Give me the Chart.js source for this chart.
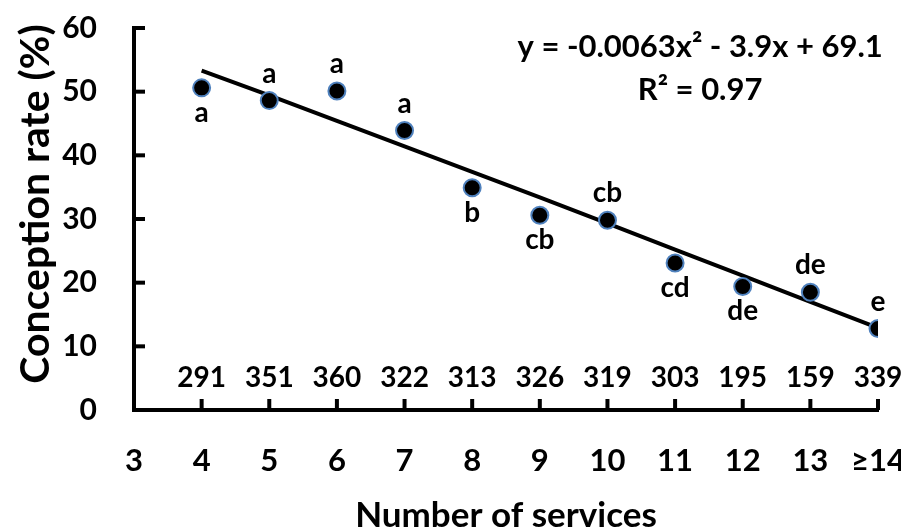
<!DOCTYPE html>
<html>
<head>
<meta charset="utf-8">
<script src="https://cdn.jsdelivr.net/npm/chart.js@4.4.1/dist/chart.umd.min.js"></script>
<style>
  html, body { margin: 0; padding: 0; background: #fff; }
  #wrap { width: 901px; height: 527px; position: relative; }
</style>
</head>
<body>
<div id="wrap"><canvas id="rateChart"></canvas></div>
<script>
const services = [4, 5, 6, 7, 8, 9, 10, 11, 12, 13, 14];
const conceptionRate = [50.6, 48.6, 50.1, 43.9, 34.9, 30.6, 29.8, 23.1, 19.4, 18.5, 12.8];
const trendRate = [53.3, 49.4, 45.4, 41.4, 37.4, 33.4, 29.3, 25.2, 21.1, 17.0, 12.9];
const groupLetters = ['a', 'a', 'a', 'a', 'b', 'cb', 'cb', 'cd', 'de', 'de', 'e'];
const letterAbove = [false, true, true, true, false, false, true, false, false, true, true];
const cowCounts = [291, 351, 360, 322, 313, 326, 319, 303, 195, 159, 339];
const xTicks = [3, 4, 5, 6, 7, 8, 9, 10, 11, 12, 13, 14];
const yTicks = [0, 10, 20, 30, 40, 50, 60];
const equationText = ['y = -0.0063x\u00b2 - 3.9x + 69.1', 'R\u00b2 = 0.97'];

const FONT = 'Lato';

// tick marks pointing into the plot, like the original
const innerTicks = {
  id: 'innerTicks',
  afterDraw(chart) {
    const { ctx, scales: { x, y } } = chart;
    ctx.save();
    ctx.strokeStyle = '#000';
    ctx.lineWidth = 4;
    yTicks.forEach(v => {
      const py = y.getPixelForValue(v);
      ctx.beginPath();
      ctx.moveTo(x.left, py);
      ctx.lineTo(x.left + 11, py);
      ctx.stroke();
    });
    services.forEach(v => {
      const px = x.getPixelForValue(v);
      ctx.beginPath();
      ctx.moveTo(px, y.bottom);
      ctx.lineTo(px, y.bottom - 11);
      ctx.stroke();
    });
    ctx.restore();
  }
};

const textLabels = {
  id: 'textLabels',
  afterDatasetsDraw(chart) {
    const { ctx, scales: { x, y } } = chart;
    ctx.save();
    ctx.fillStyle = '#000';
    ctx.textAlign = 'center';

    ctx.font = 'bold 28px ' + FONT;
    ctx.textBaseline = 'middle';
    services.forEach((s, i) => {
      ctx.fillText(String(cowCounts[i]), x.getPixelForValue(s), y.getPixelForValue(5));
    });

    ctx.textBaseline = 'alphabetic';
    services.forEach((s, i) => {
      const py = y.getPixelForValue(conceptionRate[i]);
      ctx.fillText(groupLetters[i], x.getPixelForValue(s), letterAbove[i] ? py - 18 : py + 34);
    });

    ctx.font = 'bold 31px ' + FONT;
    ctx.textBaseline = 'middle';
    ctx.fillText(equationText[0], x.getPixelForValue(11.37), y.getPixelForValue(57));
    ctx.fillText(equationText[1], x.getPixelForValue(11.37), y.getPixelForValue(50.3));

    // y axis title, sits a bit above the middle of the axis as in the original
    ctx.font = 'bold 41px ' + FONT;
    ctx.translate(36, 204);
    ctx.rotate(-Math.PI / 2);
    ctx.fillText('Conception rate (%)', 0, 0);
    ctx.restore();
  }
};

function init() {
  const ctx = document.getElementById('rateChart').getContext('2d');
  new Chart(ctx, {
    type: 'scatter',
    data: {
      datasets: [{
        data: services.map((s, i) => ({ x: s, y: conceptionRate[i] })),
        pointRadius: 8.5,
        pointBackgroundColor: '#000',
        pointBorderColor: '#4f81bd',
        pointBorderWidth: 2,
        order: 0
      }, {
        type: 'line',
        data: services.map((s, i) => ({ x: s, y: trendRate[i] })),
        borderColor: '#000',
        borderWidth: 4,
        pointRadius: 0,
        fill: false,
        tension: 0,
        order: 1
      }]
    },
    options: {
      responsive: true,
      maintainAspectRatio: false,
      animation: false,
      layout: { padding: { top: 28, right: 23, left: 0, bottom: 0 } },
      plugins: {
        legend: { display: false },
        tooltip: { enabled: false }
      },
      scales: {
        x: {
          type: 'linear',
          min: 3,
          max: 14,
          afterBuildTicks: scale => { scale.ticks = xTicks.map(v => ({ value: v })); },
          grid: { display: false, drawTicks: false, tickLength: 0 },
          border: { color: '#000', width: 4 },
          ticks: {
            color: '#000',
            font: { family: FONT, size: 31, weight: 'bold' },
            padding: 32,
            maxRotation: 0,
            autoSkip: false,
            callback: v => (v === 14 ? '\u226514' : v)
          },
          title: {
            display: true,
            text: 'Number of services',
            color: '#000',
            font: { family: FONT, size: 35, weight: 'bold', lineHeight: 0.65 },
            padding: { top: 0, bottom: 0 }
          },
          afterFit: s => { s.height = 117; s.paddingLeft = 0; s.paddingRight = 0; }
        },
        y: {
          min: 0,
          max: 60,
          afterBuildTicks: scale => { scale.ticks = yTicks.map(v => ({ value: v })); },
          grid: { display: false, drawTicks: false, tickLength: 0 },
          border: { color: '#000', width: 4 },
          ticks: {
            color: '#000',
            font: { family: FONT, size: 30, weight: 'bold' },
            padding: 37
          },
          afterFit: s => { s.width = 134; s.paddingTop = 0; s.paddingBottom = 0; }
        }
      }
    },
    plugins: [innerTicks, textLabels]
  });
}

document.addEventListener('DOMContentLoaded', init);
</script>
</body>
</html>
